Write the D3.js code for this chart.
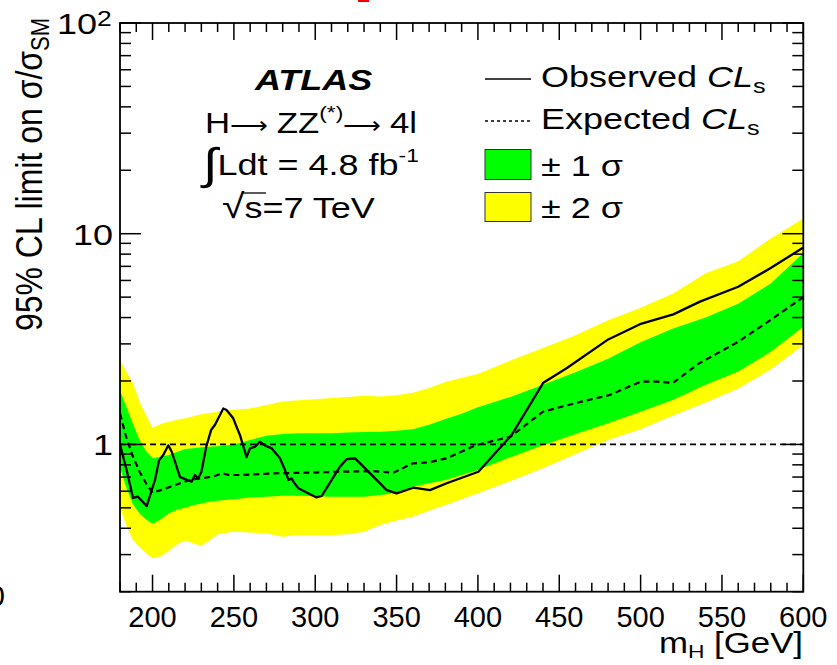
<!DOCTYPE html>
<html>
<head>
<meta charset="utf-8">
<script src="https://cdn.jsdelivr.net/npm/d3@7"></script>
<style>
  html, body { margin: 0; padding: 0; background: #fff; }
  svg text { font-family: "Liberation Sans", Arial, Helvetica, sans-serif; fill: #000; }
</style>
</head>
<body>
<svg id="chart" width="837" height="665"></svg>
<script>
// Higgs mass hypotheses (GeV) where the observed limit is evaluated
const obsMass = [180, 184, 188, 191, 196.4, 199.5, 201.5, 204, 206.6, 209.7, 211.8, 216.9, 219, 221, 224, 226, 228, 230,
  233, 236, 238.4, 243.5, 245.5, 249.6, 251.7, 253.7, 257.8, 259.9, 263, 266, 269, 273.2, 278.3, 281.4, 283.5, 285.5,
  286.6, 289.6, 300.5, 304, 315.2, 319.4, 324.5, 335.7, 343.9, 350, 360.3, 370.5, 380.8, 400.3, 420.7, 440.2, 454.5,
  480.1, 499.6, 520.1, 536.5, 560, 579.7, 600];
// Observed 95% CL limit on sigma/sigma_SM
const obsLimit = [1.0, 0.76, 0.557, 0.565, 0.51, 0.607, 0.678, 0.84, 0.89, 0.99, 0.923, 0.70, 0.69, 0.68, 0.665, 0.716, 0.69, 0.74,
  0.975, 1.17, 1.24, 1.48, 1.457, 1.33, 1.21, 1.11, 0.87, 0.958, 0.975, 1.03, 0.99, 0.958, 0.86, 0.756, 0.678, 0.69,
  0.665, 0.62, 0.561, 0.57, 0.784, 0.852, 0.859, 0.703, 0.607, 0.586, 0.623, 0.607, 0.654, 0.742, 1.108, 1.963, 2.3,
  3.15, 3.72, 4.14, 4.76, 5.6, 6.85, 8.6];

// Median expected limit
const expMass = [180, 184, 188, 192, 196, 200, 205, 211, 217, 223, 229, 237, 243, 247, 254, 274, 295, 315, 336, 348, 360,
  370, 381, 389, 399, 420, 440, 461, 481, 500, 510, 520, 536, 560, 580, 600];
const expLimit = [1.4, 1.07, 0.874, 0.742, 0.654, 0.59, 0.607, 0.63, 0.654, 0.678, 0.69, 0.703, 0.729, 0.716, 0.716, 0.729,
  0.734, 0.742, 0.747, 0.734, 0.813, 0.822, 0.86, 0.917, 0.993, 1.088, 1.43, 1.578, 1.716, 1.985, 1.985, 1.96, 2.425,
  3.07, 3.9, 5.0];

// Expected-limit bands
const bandMass = [180, 184, 188, 192, 196, 200, 205, 210, 215, 220, 225, 230, 235, 240, 250, 260, 270, 280, 290, 300, 310,
  320, 330, 340, 350, 360, 370, 380, 390, 400, 420, 440, 460, 480, 500, 520, 540, 560, 580, 600];
const band2Up = [2.52, 2.2, 1.95, 1.6, 1.38, 1.2, 1.25, 1.28, 1.31, 1.33, 1.36, 1.39, 1.41, 1.43, 1.46, 1.48, 1.54, 1.6, 1.62,
  1.64, 1.66, 1.68, 1.70, 1.69, 1.71, 1.76, 1.85, 1.98, 2.07, 2.16, 2.5, 2.87, 3.3, 3.88, 4.45, 5.2, 6.5, 7.4, 9.5, 11.8];
const band1Up = [1.81, 1.5, 1.25, 1.05, 0.93, 0.86, 0.875, 0.89, 0.92, 0.95, 0.96, 0.97, 0.975, 0.98, 1.0, 1.05, 1.1, 1.12,
  1.13, 1.13, 1.13, 1.14, 1.145, 1.15, 1.16, 1.18, 1.24, 1.32, 1.4, 1.5, 1.68, 1.92, 2.2, 2.55, 3.05, 3.55, 4.0, 4.65, 5.8, 8.1];
const band1Lo = [0.78, 0.62, 0.52, 0.47, 0.44, 0.42, 0.44, 0.47, 0.49, 0.5, 0.515, 0.525, 0.535, 0.54, 0.55, 0.56, 0.565, 0.57,
  0.57, 0.568, 0.565, 0.565, 0.565, 0.575, 0.59, 0.63, 0.655, 0.678, 0.715, 0.756, 0.87, 0.99, 1.12, 1.26, 1.43, 1.63, 1.92,
  2.22, 2.75, 3.62];
const band2Lo = [0.5, 0.41, 0.351, 0.325, 0.305, 0.288, 0.295, 0.312, 0.335, 0.35, 0.34, 0.33, 0.35, 0.375, 0.385, 0.382, 0.378,
  0.365, 0.372, 0.372, 0.372, 0.375, 0.385, 0.414, 0.435, 0.454, 0.485, 0.516, 0.55, 0.586, 0.67, 0.77, 0.9, 1.05, 1.18, 1.37,
  1.58, 1.84, 2.27, 2.96];

// Axis settings
const xDomain = [180, 600];
const yDomain = [0.2, 100];
const xMajorStep = 50, xMinorStep = 10;
const yMajorTicks = [1, 10, 100];
const yTickLabels = [["1", ""], ["10", ""], ["10", "2"]];
const referenceLevel = 1;

const box = { left: 120, right: 803.3, top: 23, bottom: 591.7 };
const SX = 1.2; // horizontal text stretch

const svg = d3.select("#chart");
const x = d3.scaleLinear().domain(xDomain).range([box.left, box.right]);
const y = d3.scaleLog().domain(yDomain).range([box.bottom, box.top]);

svg.append("defs").append("clipPath").attr("id", "plotClip")
  .append("rect").attr("x", box.left).attr("y", box.top)
  .attr("width", box.right - box.left).attr("height", box.bottom - box.top);

const plot = svg.append("g").attr("clip-path", "url(#plotClip)");

const bandRows = bandMass.map((m, i) => ({ m, u2: band2Up[i], u1: band1Up[i], l1: band1Lo[i], l2: band2Lo[i] }));

plot.append("path").datum(bandRows)
  .attr("fill", "#ffff00")
  .attr("d", d3.area().x(d => x(d.m)).y0(d => y(d.l2)).y1(d => y(d.u2)));
plot.append("path").datum(bandRows)
  .attr("fill", "#00ff00")
  .attr("d", d3.area().x(d => x(d.m)).y0(d => y(d.l1)).y1(d => y(d.u1)));

// Reference line at sigma/sigma_SM = 1
plot.append("line")
  .attr("x1", x(xDomain[0])).attr("x2", x(xDomain[1]))
  .attr("y1", y(referenceLevel)).attr("y2", y(referenceLevel))
  .attr("stroke", "#000").attr("stroke-width", 1.6).attr("stroke-dasharray", "6,4");

const line = d3.line().x(d => x(d[0])).y(d => y(d[1]));
plot.append("path").datum(expMass.map((m, i) => [m, expLimit[i]]))
  .attr("fill", "none").attr("stroke", "#000").attr("stroke-width", 2.2)
  .attr("stroke-dasharray", "6,4").attr("d", line);
plot.append("path").datum(obsMass.map((m, i) => [m, obsLimit[i]]))
  .attr("fill", "none").attr("stroke", "#000").attr("stroke-width", 2.3)
  .attr("stroke-linejoin", "round").attr("d", line);

// Frame and ticks (ticks on all four sides, pointing inward)
const axes = svg.append("g").attr("stroke", "#000");
axes.append("rect").attr("x", box.left).attr("y", box.top)
  .attr("width", box.right - box.left).attr("height", box.bottom - box.top)
  .attr("fill", "none").attr("stroke-width", 1.8);

const xMinor = d3.range(xDomain[0], xDomain[1] + 0.01, xMinorStep);
xMinor.forEach(v => {
  const major = v % xMajorStep === 0;
  const len = major ? 17 : 9;
  axes.append("line").attr("x1", x(v)).attr("x2", x(v)).attr("y1", box.bottom).attr("y2", box.bottom - len).attr("stroke-width", 1.5);
  axes.append("line").attr("x1", x(v)).attr("x2", x(v)).attr("y1", box.top).attr("y2", box.top + len).attr("stroke-width", 1.5);
});

const yTicks = [];
for (let dec = 0.1; dec < yDomain[1]; dec *= 10) {
  for (let k = 1; k <= 9; k++) {
    const v = +(dec * k).toPrecision(3);
    if (v >= yDomain[0] - 1e-9 && v <= yDomain[1] + 1e-9) yTicks.push({ v, major: k === 1 });
  }
}
yTicks.push({ v: yDomain[1], major: true });
yTicks.forEach(t => {
  const len = t.major ? 21 : 11;
  axes.append("line").attr("x1", box.left).attr("x2", box.left + len).attr("y1", y(t.v)).attr("y2", y(t.v)).attr("stroke-width", 1.5);
  axes.append("line").attr("x1", box.right).attr("x2", box.right - len).attr("y1", y(t.v)).attr("y2", y(t.v)).attr("stroke-width", 1.5);
});

// Helper: stretched text anchored at (px, py)
function stext(px, py, size, anchor, sx) {
  return svg.append("text")
    .attr("transform", `translate(${px},${py}) scale(${sx === undefined ? SX : sx},1)`)
    .attr("font-size", size).attr("text-anchor", anchor || "start");
}

// x tick labels
d3.range(200, xDomain[1] + 1, xMajorStep).forEach(v => {
  stext(x(v), 627, 29, "middle", 1.0).text(v);
});

// y tick labels
yMajorTicks.forEach((v, i) => {
  const [base, sup] = yTickLabels[i];
  const t = stext(sup ? 97 : 113, y(v) + 11, 30, "end");
  t.append("tspan").text(base);
  if (sup) {
    svg.append("text")
      .attr("transform", `translate(97,${y(v) + 3}) scale(${SX},1)`)
      .attr("font-size", 22).text(sup);
  }
});

// x-axis title
const xt = stext(803, 653, 29, "end");
xt.append("tspan").text("m");
xt.append("tspan").attr("font-size", 19).attr("dy", 5).text("H");
xt.append("tspan").attr("dy", -5).text(" [GeV]");

// y-axis title
const yt = svg.append("text")
  .attr("transform", `translate(42,18) rotate(-90) scale(1,1.15)`)
  .attr("font-size", 32).attr("text-anchor", "end");
yt.append("tspan").text("95% CL limit on σ/σ");
yt.append("tspan").attr("font-size", 22).attr("dy", 6).text("SM");

// Experiment label block
stext(255, 90, 30, "start").attr("font-weight", "bold").attr("font-style", "italic").text("ATLAS");

const ch = stext(205, 133, 29, "start");
ch.append("tspan").text("H");
ch.append("tspan").attr("font-size", 22).text("⟶");
ch.append("tspan").text(" ZZ");
ch.append("tspan").attr("font-size", 19).attr("dy", -14).text("(*)");
ch.append("tspan").attr("font-size", 22).attr("dy", 14).text("⟶");
ch.append("tspan").text(" 4l");

const lum = stext(203, 175, 30, "start");
lum.append("tspan").attr("font-size", 44).attr("dy", 4).text("∫");
lum.append("tspan").attr("dy", -4).text("Ldt = 4.8 fb");
lum.append("tspan").attr("font-size", 19).attr("dy", -13).text("-1");

const rs = stext(222, 218, 30, "start");
rs.append("tspan").attr("font-size", 34).text("√");
rs.append("tspan").text("s=7 TeV");
svg.append("line").attr("x1", 243).attr("x2", 266).attr("y1", 193).attr("y2", 193)
  .attr("stroke", "#000").attr("stroke-width", 1.3);

// Legend
const lgX0 = 485, lgX1 = 531;
svg.append("line").attr("x1", lgX0).attr("x2", lgX1).attr("y1", 79).attr("y2", 79)
  .attr("stroke", "#000").attr("stroke-width", 1.6);
svg.append("line").attr("x1", lgX0).attr("x2", lgX1).attr("y1", 121).attr("y2", 121)
  .attr("stroke", "#000").attr("stroke-width", 1.4).attr("stroke-dasharray", "3,3");
svg.append("rect").attr("x", lgX0).attr("y", 149.5).attr("width", lgX1 - lgX0).attr("height", 30)
  .attr("fill", "#00ff00").attr("stroke", "#333").attr("stroke-width", 1);
svg.append("rect").attr("x", lgX0).attr("y", 192.5).attr("width", lgX1 - lgX0).attr("height", 29)
  .attr("fill", "#ffff00").attr("stroke", "#333").attr("stroke-width", 1);

const lo = stext(541, 87, 30, "start");
lo.append("tspan").text("Observed ");
lo.append("tspan").attr("font-style", "italic").text("CL");
lo.append("tspan").attr("font-size", 21).attr("dy", 6).text("s");
const le = stext(541, 129, 30, "start");
le.append("tspan").text("Expected ");
le.append("tspan").attr("font-style", "italic").text("CL");
le.append("tspan").attr("font-size", 21).attr("dy", 6).text("s");
stext(541, 176, 30, "start").text("± 1 σ");
stext(541, 218, 30, "start").text("± 2 σ");

// Fragments at the image border
svg.append("rect").attr("x", 358).attr("y", 0).attr("width", 11).attr("height", 2).attr("fill", "#ff0000");
svg.append("text").attr("x", 5).attr("y", 606).attr("font-size", 30).attr("text-anchor", "end").text("0");
</script>
</body>
</html>
